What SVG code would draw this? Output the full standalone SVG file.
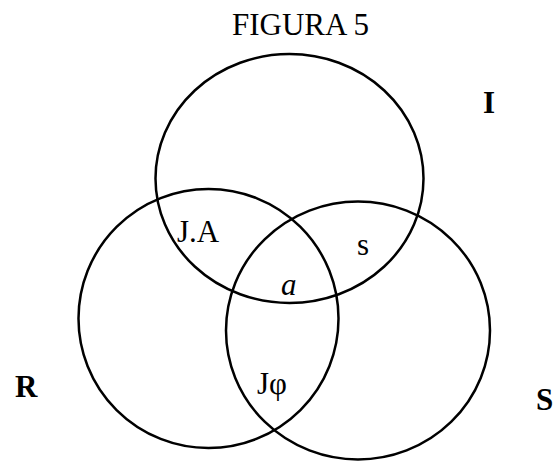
<svg xmlns="http://www.w3.org/2000/svg" width="553" height="461" viewBox="0 0 553 461">
<style>
.c{fill:none;stroke:#000;stroke-width:2.5}
.t{font-family:"Liberation Serif","Times New Roman",serif;font-size:31px;fill:#000}
.b{font-weight:bold}
</style>
<rect width="553" height="461" fill="#fff"/>
<text class="t" x="232" y="35">FIGURA 5</text>
<g id="circle-I"><ellipse class="c" cx="289.5" cy="178.5" rx="134" ry="124.5"/></g>
<g id="circle-R"><ellipse class="c" cx="208.5" cy="318.5" rx="130" ry="129.5"/></g>
<g id="circle-S"><ellipse class="c" cx="358" cy="330.5" rx="132" ry="129"/></g>
<g id="connectors"></g>
<g id="labels">
<text class="t b" x="483" y="113">I</text>
<text class="t b" x="15" y="397">R</text>
<text class="t b" x="536" y="410">S</text>
<text class="t" x="177" y="242">J.A</text>
<text class="t" x="357" y="255">s</text>
<text class="t" x="281" y="295" font-style="italic">a</text>
<text class="t" x="257" y="394">Jφ</text>
</g>
</svg>
